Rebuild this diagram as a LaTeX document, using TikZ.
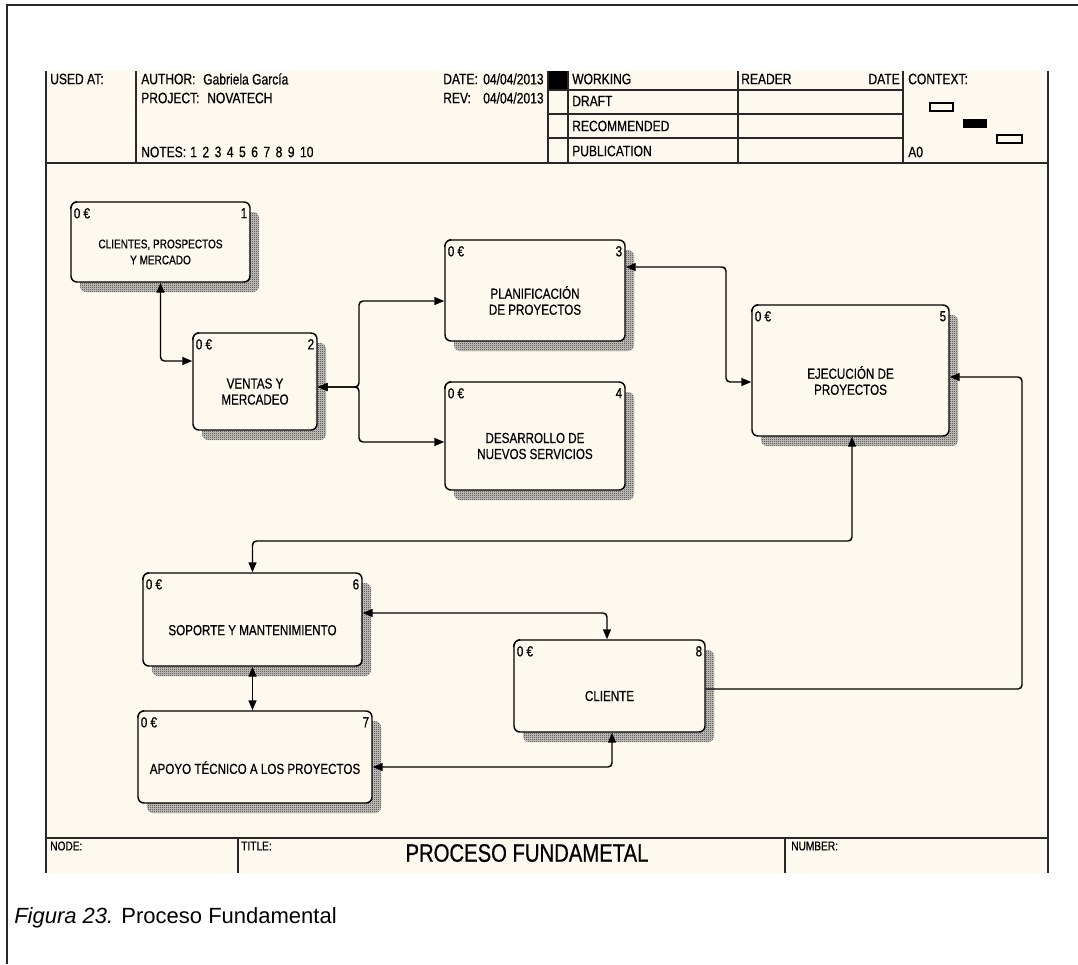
\documentclass[tikz,border=0pt]{standalone}
\usepackage{fontspec}
\setmainfont{Liberation Sans}
\newfontfamily\idef{Liberation Sans}[FakeStretch=0.8,FakeBold=0.6]
\usetikzlibrary{arrows.meta,patterns,shadows,calc}

\definecolor{paper}{RGB}{253,249,238}
\definecolor{rule}{RGB}{40,40,40}
\definecolor{shade}{RGB}{40,40,40}
\definecolor{shadebase}{RGB}{205,203,196}

% fine one-pixel checker used for the box shadows
\pgfdeclarepatternformonly{idefcheck}{\pgfqpoint{0pt}{0pt}}{\pgfqpoint{1.5pt}{1.5pt}}{\pgfqpoint{1.5pt}{1.5pt}}{%
  \pgfpathrectangle{\pgfqpoint{0pt}{0pt}}{\pgfqpoint{0.75pt}{0.75pt}}%
  \pgfpathrectangle{\pgfqpoint{0.75pt}{0.75pt}}{\pgfqpoint{0.75pt}{0.75pt}}%
  \pgfusepath{fill}}

\tikzset{
  activity/.style={draw=black, line width=1.1pt, rounded corners=4.5pt, fill=paper, inner sep=0pt,
    general shadow={shadow xshift=6.75pt, shadow yshift=-7.5pt, fill=shadebase},
    general shadow={shadow xshift=6.75pt, shadow yshift=-7.5pt, pattern=idefcheck, pattern color=shade}},
  lbl/.style={font=\idef\fontsize{10.9}{12}\selectfont, align=center, inner sep=0pt},
  tag/.style={font=\idef\fontsize{10.9}{12}\selectfont, inner sep=0pt},
  hd/.style={font=\idef\fontsize{11.3}{13}\selectfont, inner sep=0pt, anchor=west},
  ft/.style={font=\idef\fontsize{9.5}{11}\selectfont, inner sep=0pt, anchor=west},
  conn/.style={line width=1.1pt, rounded corners=3pt},
  gridline/.style={line width=1pt, rule}
}

% activity box: name, centre x, centre y, width, height, number
\newcommand\idefbox[6]{%
  \node[activity, minimum width=#4*0.75pt, minimum height=#5*0.75pt] (#1) at (#2,#3) {};
  \draw[line width=0.6pt] ([yshift=-6pt]#1.north west) to[bend left=35] ([xshift=5pt]#1.north west);
  \node[tag, anchor=north west] (#1z) at ([xshift=2.5pt,yshift=-5pt]#1.north west) {0 €};
  \node[tag, anchor=north east] (#1n) at ([xshift=-2.5pt,yshift=-5pt]#1.north east) {#6};
}

\begin{document}
\begin{tikzpicture}[x=0.75pt,y=-0.75pt,>={Triangle[length=7.5pt,width=6pt]}]
\useasboundingbox (0,0) rectangle (1078,964);
\fill[white] (0,0) rectangle (1078,964);

% outer page frame
\draw[line width=1.1pt, rule] (7,964) -- (7,5) -- (1078,5);

% diagram sheet
\fill[paper] (46,71) rectangle (1048,873);

% header grid
\fill[black] (548,71) rectangle (568,90);
\draw[gridline] (136,71) -- (136,163);
\foreach \x in {548,568,738,903} \draw[gridline] (\x,71) -- (\x,163);
\foreach \y in {90,114,138} \draw[gridline] (548,\y) -- (903,\y);
\draw[gridline] (46,163) -- (1048,163);
% footer grid and right border
\draw[gridline] (46,838) -- (1048,838);
\draw[gridline] (238,838) -- (238,873);
\draw[gridline] (785,838) -- (785,873);
\draw[gridline] (1048,71) -- (1048,873);
\draw[line width=1.8pt, rule] (46,71) -- (46,873);

% context marks
\draw[line width=0.8pt] (930,103) rectangle (953,111);
\fill (963,119) rectangle (987,128);
\draw[line width=0.8pt] (997,135) rectangle (1022,143);

% header texts
\node[hd] (usedat) at (50,79) {USED AT:};
\node[hd] (author) at (141,79) {AUTHOR:};
\node[hd] (authorname) at (203,79) {Gabriela García};
\node[hd] (project) at (141,98) {PROJECT:};
\node[hd] (projectname) at (207,98) {NOVATECH};
\node[hd] (notes) at (141,152) {NOTES:};
\foreach \n [count=\i from 0] in {1,2,3,4,5,6,7,8,9,10}
  \node[hd] (note\n) at (190+12.2*\i,152) {\n};
\node[hd] (datelbl) at (443,79) {DATE:};
\node[hd] (dateval) at (483,79) {04/04/2013};
\node[hd] (revlbl) at (443,98) {REV:};
\node[hd] (revval) at (483,98) {04/04/2013};
\node[hd] (working) at (572,79) {WORKING};
\node[hd] (draft) at (572,101) {DRAFT};
\node[hd] (recommended) at (572,126) {RECOMMENDED};
\node[hd] (publication) at (572,151) {PUBLICATION};
\node[hd] (reader) at (741,79) {READER};
\node[hd, anchor=east] (readerdate) at (900,79) {DATE};
\node[hd] (context) at (908,79) {CONTEXT:};
\node[hd] (azero) at (908,152) {A0};

% activities
\idefbox{b1}{160.5}{242}{179}{80}{1}
\idefbox{b2}{255}{381.5}{124}{97}{2}
\idefbox{b3}{535}{290.5}{180}{101}{3}
\idefbox{b4}{535}{436}{180}{108}{4}
\idefbox{b5}{850.5}{370.5}{197}{131}{5}
\idefbox{b6}{252.5}{619.5}{219}{93}{6}
\idefbox{b7}{255}{757}{234}{92}{7}
\idefbox{b8}{609.5}{686}{191}{92}{8}

\node[lbl, font=\idef\fontsize{9.4}{12}\selectfont] (t1) at ([yshift=-7.5pt]b1.center) {CLIENTES, PROSPECTOS\\Y MERCADO};
\node[lbl] (t2) at ([yshift=-7.5pt]b2.center) {VENTAS Y\\MERCADEO};
\node[lbl] (t3) at ([yshift=-7.5pt]b3.center) {PLANIFICACIÓN\\DE PROYECTOS};
\node[lbl] (t4) at ([yshift=-7.5pt]b4.center) {DESARROLLO DE\\NUEVOS SERVICIOS};
\node[lbl] (t5) at ([yshift=-7.5pt]b5.center) {EJECUCIÓN DE\\PROYECTOS};
\node[lbl] (t6) at ([yshift=-8pt]b6.center) {SOPORTE Y MANTENIMIENTO};
\node[lbl] (t7) at ([yshift=-8pt]b7.center) {APOYO TÉCNICO A LOS PROYECTOS};
\node[lbl] (t8) at ([yshift=-7.5pt]b8.center) {CLIENTE};

% connectors
\coordinate (j) at (359,387);
\draw[conn,<->] (b1.south) |- (b2.west |- 0,361);
\draw[conn,<->] (b2.east |- j) -- (j) |- (b3.west |- 0,301);
\draw[conn,<->] (b2.east |- j) -- (j) |- (b4.west |- 0,442);
\draw[conn,<->] (b3.east |- 0,267) -- (726,267) |- (b5.west |- 0,382);
\draw[conn,->] (b8.east |- 0,689) -| (1022,377) -- (b5.east |- 0,377);
\draw[conn,<->] (b5.south -| 852,0) |- (b6.north |- 0,541) -- (b6.north);
\draw[conn,<->] (b6.east |- 0,613) -| (b8.north -| 607,0);
\draw[conn,<->] (b6.south) -- (b6.south |- b7.north);
\draw[conn,<->] (b7.east |- 0,767) -| (b8.south -| 612,0);

% footer
\node[ft] (nodelbl) at (50,846) {NODE:};
\node[ft] (titlelbl) at (241,846) {TITLE:};
\node[ft] (numberlbl) at (791,846) {NUMBER:};
\node[font=\idef\fontsize{19}{20}\selectfont, inner sep=0pt] (title) at (527,853) {PROCESO FUNDAMETAL};

% caption
\node[anchor=base west, inner sep=0pt, font=\fontsize{16.5}{18}\selectfont] (caption) at (14,923) {\textit{Figura 23.} Proceso Fundamental};
\end{tikzpicture}
\end{document}
